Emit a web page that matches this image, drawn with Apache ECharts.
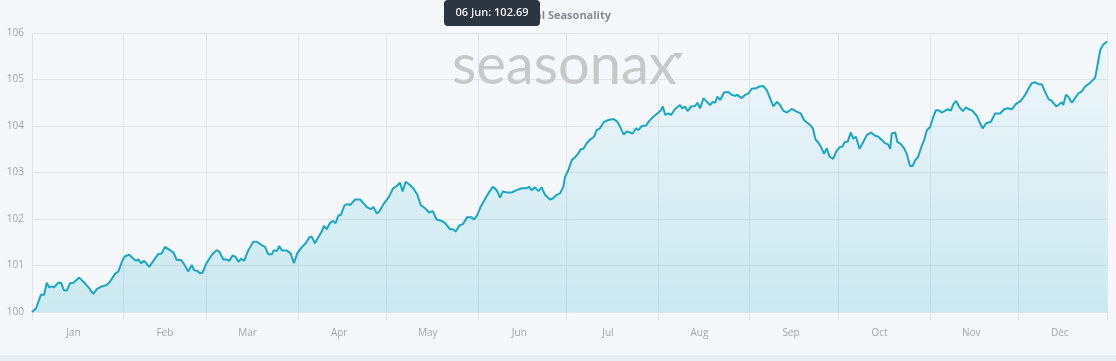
<!DOCTYPE html>
<html>
<head>
<meta charset="utf-8">
<script src="https://cdn.jsdelivr.net/npm/echarts@6/dist/echarts.min.js"></script>
<style>
html,body{margin:0;padding:0;background:#f4f8fb;}
#chart{width:1116px;height:361px;}
</style>
</head>
<body>
<div id="chart"></div>
<script>
// ---- data ----
const monthNames = ['Jan','Feb','Mar','Apr','May','Jun','Jul','Aug','Sep','Oct','Nov','Dec'];
const monthLengths = [31,28,31,30,31,30,31,31,30,31,30,31];
const yTicks = [100,101,102,103,104,105,106];
const chartTitle = 'Annual Seasonality';
const tooltipDayIndex = 156; // 06 Jun

// day-of-year position (0 = 01 Jan) of each point, and its seasonal value
const dayOfYear = [
  0,1.4,3.0,4.1,5.0,5.8,6.7,7.5,8.1,8.9,9.8,10.8,11.8,12.9,14.0,16.0,17.9,19.4,20.8,21.9,23.6,25.3,26.4,28.1,29.2,30.7,
  31.5,32.9,34.3,35.2,36.0,36.9,38.0,39.7,41.1,42.8,43.9,45.0,46.7,47.9,49.0,50.4,51.5,52.9,54.1,54.9,56.0,56.9,57.8,
  58.9,60.9,62.5,63.4,64.8,65.9,66.8,68.0,69.0,69.9,70.8,71.8,73.2,74.9,76.1,77.8,78.9,80.0,81.2,81.9,82.9,83.7,84.6,86.3,87.6,88.7,89.8,
  91.3,92.8,93.9,94.7,95.8,96.7,98.1,98.9,99.8,100.9,102.0,102.8,103.7,104.6,105.8,106.8,107.7,109.4,111.1,112.2,113.3,114.7,115.6,116.7,117.6,119.0,
  120.7,122.3,123.5,124.6,125.5,126.5,128.0,129.1,130.5,131.6,133.1,134.5,135.7,137.0,138.7,139.9,141.5,142.5,143.5,144.7,145.9,147.4,148.7,149.7,
  150.8,151.9,153.4,154.5,156.0,156.8,157.6,158.5,159.4,160.8,162.4,164.1,165.8,167.3,168.3,169.2,170.3,171.5,172.6,173.7,175.4,176.3,177.7,178.8,179.9,
  180.5,181.6,182.8,183.9,185.0,185.8,186.7,187.8,189.0,190.3,191.2,192.3,193.7,195.2,196.9,198.2,199.4,200.3,201.4,202.5,203.4,204.5,205.3,206.5,207.9,209.0,210.4,
  212.1,213.0,213.6,214.4,215.5,216.4,217.7,219.4,220.2,221.1,222.0,223.2,224.5,225.3,226.2,227.4,228.5,229.6,230.5,231.3,232.1,233.0,234.3,235.8,236.9,238.1,238.8,240.3,241.5,242.6,
  243.7,245.2,246.3,247.6,248.8,249.9,251.0,252.2,253.3,254.4,255.6,257.3,258.9,260.3,261.4,262.5,263.5,264.4,265.3,266.3,267.4,268.2,269.1,270.0,271.2,272.3,
  273.4,274.4,275.3,276.2,277.2,278.1,279.0,280.2,281.5,282.7,284.1,285.5,286.6,287.7,288.9,289.8,290.6,291.1,292.3,293.0,294.2,295.3,296.2,297.3,298.2,299.1,300.0,301.2,302.1,303.0,
  304.1,305.2,306.1,307.0,308.0,309.2,310.1,311.1,312.0,312.9,314.1,315.2,316.2,317.3,318.4,319.9,321.0,321.9,323.1,324.7,326.1,327.8,329.2,330.3,331.8,333.1,
  334.8,336.3,337.4,338.5,339.7,340.8,341.9,343.0,344.2,345.3,346.8,347.5,348.7,349.2,350.1,350.9,352.1,353.2,354.3,355.4,356.6,357.7,358.8,360.0,360.9,361.7,362.6,363.7,364
];
const seasonalValue = [
  100.00,100.08,100.37,100.37,100.63,100.53,100.55,100.53,100.55,100.63,100.63,100.47,100.46,100.62,100.63,100.74,100.62,100.51,100.39,100.49,100.55,100.58,100.65,100.82,100.87,101.12,
  101.20,101.23,101.15,101.10,101.13,101.05,101.10,100.97,101.10,101.25,101.26,101.40,101.33,101.28,101.12,101.12,101.03,100.87,101.01,100.90,100.88,100.83,100.85,
  101.03,101.23,101.33,101.30,101.13,101.13,101.10,101.22,101.18,101.08,101.15,101.10,101.32,101.51,101.51,101.44,101.40,101.24,101.24,101.33,101.31,101.42,101.33,101.32,101.26,101.05,101.26,
  101.39,101.49,101.61,101.62,101.48,101.58,101.73,101.85,101.78,101.92,101.96,101.91,102.07,102.09,102.29,102.32,102.30,102.42,102.42,102.34,102.26,102.21,102.26,102.12,102.16,102.32,
  102.46,102.66,102.71,102.78,102.59,102.80,102.73,102.66,102.52,102.30,102.23,102.14,102.17,101.99,101.96,101.91,101.78,101.78,101.73,101.86,101.89,102.04,102.04,101.99,
  102.09,102.26,102.43,102.55,102.69,102.66,102.59,102.46,102.59,102.57,102.57,102.62,102.66,102.66,102.69,102.62,102.68,102.60,102.68,102.52,102.42,102.44,102.52,102.55,102.69,
  102.91,103.05,103.27,103.33,103.41,103.50,103.51,103.63,103.71,103.77,103.91,103.95,104.09,104.13,104.15,104.09,103.95,103.82,103.88,103.86,103.84,103.95,103.91,104.00,104.01,104.11,104.20,
  104.29,104.34,104.42,104.24,104.27,104.24,104.36,104.45,104.38,104.42,104.32,104.42,104.43,104.50,104.38,104.60,104.52,104.45,104.52,104.50,104.63,104.56,104.72,104.73,104.67,104.65,104.67,104.60,104.67,104.70,
  104.80,104.81,104.85,104.86,104.77,104.60,104.42,104.52,104.45,104.33,104.29,104.37,104.31,104.27,104.13,104.07,104.02,103.95,103.71,103.64,103.52,103.40,103.52,103.35,103.29,103.45,
  103.54,103.56,103.66,103.66,103.86,103.73,103.77,103.51,103.66,103.81,103.86,103.79,103.77,103.70,103.63,103.61,103.51,103.84,103.86,103.66,103.61,103.52,103.40,103.14,103.14,103.27,103.33,103.56,103.70,103.91,
  103.98,104.20,104.34,104.34,104.29,104.33,104.36,104.33,104.47,104.54,104.40,104.32,104.40,104.36,104.33,104.22,104.06,103.95,104.06,104.09,104.27,104.27,104.36,104.38,104.36,104.47,
  104.54,104.67,104.80,104.92,104.94,104.90,104.90,104.74,104.58,104.54,104.42,104.45,104.51,104.45,104.67,104.63,104.50,104.60,104.70,104.74,104.85,104.90,104.96,105.04,105.35,105.63,105.74,105.80,105.82
];

// ---- build calendar categories ----
const dateLabels = [];
const dayOfMonth = [];
const monthOfDay = [];
monthLengths.forEach((len, m) => {
  for (let d = 1; d <= len; d++) {
    dateLabels.push((d < 10 ? '0' + d : '' + d) + ' ' + monthNames[m]);
    dayOfMonth.push(d);
    monthOfDay.push(m);
  }
});
const lastIndex = dateLabels.length - 1;
const seriesData = dayOfYear.map((d, i) => [d, seasonalValue[i]]);

// value at tooltip day
let tipVal = null;
dayOfYear.forEach((d, i) => { if (Math.abs(d - tooltipDayIndex) < 0.01) tipVal = seasonalValue[i]; });
const tipText = dateLabels[tooltipDayIndex] + ': ' + (tipVal !== null ? tipVal.toFixed(2) : '');

const FONT = '"Open Sans", sans-serif';
const chart = echarts.init(document.getElementById('chart'), null, {renderer: 'canvas'});
chart.setOption({
  backgroundColor: '#f4f8fb',
  animation: false,
  title: {
    text: chartTitle,
    left: 606,
    textAlign: 'right',
    top: 5,
    textStyle: {fontFamily: FONT, fontSize: 11, fontWeight: 'bold', color: '#878c91'}
  },
  grid: {left: 32, right: 9, top: 33, bottom: 49},
  xAxis: [
    {
      type: 'category',
      data: dateLabels,
      boundaryGap: false,
      axisLine: {show: false},
      axisTick: {
        show: true,
        length: 8,
        interval: (i) => dayOfMonth[i] === 1 || i === lastIndex,
        lineStyle: {color: '#dde3e8'}
      },
      splitLine: {
        show: true,
        interval: (i) => dayOfMonth[i] === 1 || i === lastIndex,
        lineStyle: {color: '#e1e6ea', width: 1}
      },
      axisLabel: {
        interval: (i) => dayOfMonth[i] === 15,
        formatter: (v, i) => monthNames[monthOfDay[i]],
        margin: 16,
        color: '#a3a7ab',
        fontFamily: FONT,
        fontSize: 10
      }
    },
    {
      type: 'value',
      min: 0,
      max: lastIndex,
      show: false
    }
  ],
  yAxis: {
    type: 'value',
    min: yTicks[0],
    max: yTicks[yTicks.length - 1],
    interval: 1,
    axisLine: {show: false},
    axisTick: {show: false},
    splitLine: {lineStyle: {color: '#e1e6ea'}},
    axisLabel: {margin: 8, color: '#9fa3a7', fontFamily: FONT, fontSize: 10}
  },
  series: [{
    type: 'line',
    xAxisIndex: 1,
    data: seriesData,
    showSymbol: false,
    symbol: 'none',
    lineStyle: {color: '#1ba7c2', width: 2},
    itemStyle: {color: '#1ba7c2'},
    areaStyle: {
      color: new echarts.graphic.LinearGradient(0, 0, 0, 1, [
        {offset: 0, color: 'rgba(27,167,194,0.04)'},
        {offset: 1, color: 'rgba(27,167,194,0.27)'}
      ])
    },
    z: 3
  }],
  graphic: [
    {
      type: 'rect', left: 0, top: 355, z: -1,
      shape: {width: 1116, height: 6},
      style: {fill: '#e8edf1'}
    },
    {
      type: 'text', left: 452, top: 38, z: 1, silent: true,
      style: {text: 'seasonax', fill: '#c6c8ca', font: 'normal 56px Lato, sans-serif'}
    },
    {
      type: 'polygon', z: 1, silent: true,
      shape: {points: [[673, 53], [683, 53], [678, 60]]},
      style: {fill: '#c6c8ca'}
    },
    {
      type: 'group', z: 100,
      children: [
        {type: 'rect', shape: {x: 444, y: 0, width: 96, height: 26, r: 4}, style: {fill: '#2c3540'}, z: 100},
        {type: 'text', z: 101, style: {text: tipText, x: 492, y: 13, align: 'center', verticalAlign: 'middle',
          fill: '#eef0f2', font: '600 11px "Open Sans", sans-serif'}}
      ]
    }
  ]
});
</script>
</body>
</html>
